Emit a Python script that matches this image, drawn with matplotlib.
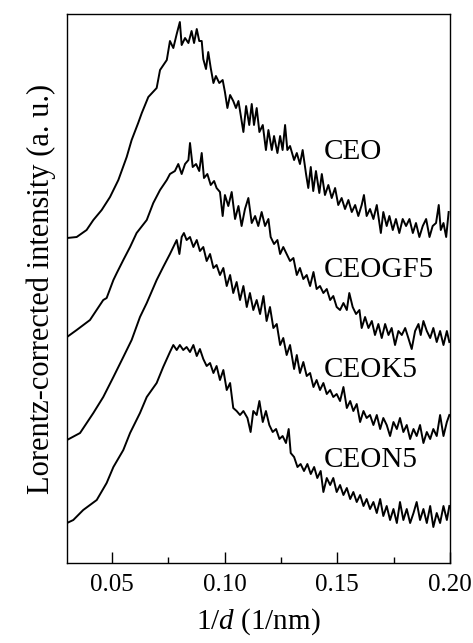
import matplotlib
matplotlib.use("Agg")
import matplotlib.pyplot as plt
from matplotlib.ticker import MultipleLocator

plt.rcParams['font.family'] = ['Liberation Serif', 'DejaVu Serif']
plt.rcParams['mathtext.fontset'] = 'custom'
plt.rcParams['mathtext.it'] = 'Liberation Serif:italic'
plt.rcParams['mathtext.rm'] = 'Liberation Serif'

# values: 1/d in 1/nm, intensity in a.u. (curves already stacked)
ceo_x = [0.0300, 0.0343, 0.0387, 0.0417, 0.0454, 0.0491, 0.0528, 0.0565, 0.0587, 0.0616,
         0.0632, 0.0661, 0.0698, 0.0713, 0.0743,
         0.0757, 0.0772, 0.0787, 0.0801, 0.0809, 0.0824, 0.0839, 0.0853, 0.0864, 0.0876,
         0.0887, 0.0898, 0.0905, 0.0917, 0.0927, 0.0938, 0.0950, 0.0961, 0.0976, 0.0991,
         0.1001, 0.1012, 0.1024, 0.1038, 0.1050, 0.1061, 0.1071, 0.1083, 0.1095, 0.1109,
         0.1120, 0.1130, 0.1142, 0.1154, 0.1169, 0.1183, 0.1194, 0.1209, 0.1219, 0.1234,
         0.1246, 0.1257, 0.1268, 0.1278, 0.1290, 0.1308, 0.1320, 0.1334, 0.1346, 0.1361,
         0.1371, 0.1382, 0.1393, 0.1405, 0.1420, 0.1431, 0.1445, 0.1460, 0.1475, 0.1490,
         0.1504, 0.1519, 0.1534, 0.1549, 0.1564, 0.1579, 0.1593, 0.1608, 0.1618, 0.1630,
         0.1645, 0.1660, 0.1675, 0.1693, 0.1704, 0.1719, 0.1731, 0.1746, 0.1760, 0.1775,
         0.1790, 0.1805, 0.1820, 0.1835, 0.1849, 0.1864, 0.1879, 0.1894, 0.1909, 0.1923,
         0.1938, 0.1950, 0.1959, 0.1971, 0.1983, 0.1994]
ceo_y = [325, 326, 333, 343, 353, 366, 383, 406, 423, 440,
         450, 466, 475, 493, 503,
         522, 515, 529, 541, 518, 525, 520, 532, 520, 534,
         522, 522, 504, 494, 511, 495, 480, 487, 480, 483,
         471, 455, 468, 462, 455, 462, 448, 431, 457, 438,
         459, 438, 455, 431, 438, 413, 433, 413, 427, 410,
         427, 413, 438, 413, 417, 403, 410, 399, 413, 389,
         375, 396, 372, 392, 370, 389, 368, 378, 365, 375,
         358, 365, 354, 363, 351, 358, 347, 358, 368, 347,
         354, 344, 358, 330, 351, 337, 347, 333, 344, 330,
         344, 337, 344, 330, 340, 326, 337, 344, 326, 337,
         340, 358, 333, 340, 326, 351]

gf5_x = [0.0300, 0.0343, 0.0402, 0.0461, 0.0476, 0.0506, 0.0521, 0.0550, 0.0580, 0.0609,
         0.0654, 0.0683, 0.0713, 0.0743,
         0.0757, 0.0779, 0.0794, 0.0809, 0.0824, 0.0839, 0.0846, 0.0858, 0.0873, 0.0887,
         0.0898, 0.0908, 0.0923, 0.0938, 0.0953, 0.0964, 0.0979, 0.0991, 0.1001, 0.1016,
         0.1031, 0.1046, 0.1061, 0.1075, 0.1090, 0.1105, 0.1120, 0.1135, 0.1149, 0.1164,
         0.1179, 0.1194, 0.1204, 0.1219, 0.1234, 0.1246, 0.1260, 0.1275, 0.1290, 0.1305,
         0.1320, 0.1334, 0.1349, 0.1364, 0.1379, 0.1394, 0.1408, 0.1423, 0.1438, 0.1453,
         0.1468, 0.1482, 0.1497, 0.1512, 0.1527, 0.1542, 0.1553, 0.1568, 0.1583, 0.1598,
         0.1608, 0.1623, 0.1638, 0.1653, 0.1667, 0.1682, 0.1697, 0.1712, 0.1727, 0.1741,
         0.1756, 0.1771, 0.1786, 0.1801, 0.1815, 0.1830, 0.1845, 0.1860, 0.1870, 0.1882,
         0.1897, 0.1912, 0.1926, 0.1941, 0.1956, 0.1971, 0.1986, 0.1997]
gf5_y = [226, 233, 243, 263, 265, 283, 290, 303, 316, 330,
         343, 360, 373, 383,
         389, 392, 399, 389, 399, 403, 420, 396, 399, 392,
         410, 385, 389, 378, 382, 375, 371, 347, 368, 357,
         371, 344, 357, 337, 354, 365, 340, 347, 337, 351,
         337, 344, 326, 319, 323, 309, 316, 309, 302, 305,
         288, 295, 284, 288, 277, 291, 274, 277, 270, 274,
         263, 267, 256, 253, 260, 253, 270, 256, 249, 253,
         235, 246, 235, 242, 228, 239, 225, 239, 228, 235,
         218, 232, 228, 235, 225, 214, 232, 239, 228, 242,
         232, 225, 235, 221, 232, 218, 232, 221]

k5_x = [0.0300, 0.0358, 0.0417, 0.0461, 0.0506, 0.0550, 0.0587, 0.0624, 0.0654, 0.0698,
        0.0727,
        0.0757, 0.0772, 0.0787, 0.0799, 0.0809, 0.0819, 0.0831, 0.0846, 0.0861, 0.0876,
        0.0890, 0.0905, 0.0920, 0.0935, 0.0950, 0.0964, 0.0979, 0.0994, 0.1009, 0.1024,
        0.1038, 0.1053, 0.1068, 0.1083, 0.1098, 0.1112, 0.1127, 0.1142, 0.1157, 0.1172,
        0.1186, 0.1201, 0.1216, 0.1231, 0.1246, 0.1260, 0.1275, 0.1290, 0.1308, 0.1320,
        0.1334, 0.1349, 0.1364, 0.1379, 0.1394, 0.1408, 0.1423, 0.1438, 0.1453, 0.1468,
        0.1482, 0.1497, 0.1512, 0.1527, 0.1542, 0.1557, 0.1571, 0.1586, 0.1601, 0.1616,
        0.1630, 0.1645, 0.1660, 0.1675, 0.1690, 0.1704, 0.1719, 0.1734, 0.1749, 0.1764,
        0.1778, 0.1793, 0.1808, 0.1823, 0.1838, 0.1852, 0.1867, 0.1882, 0.1897, 0.1912,
        0.1926, 0.1941, 0.1956, 0.1971, 0.1986, 0.1997]
k5_y = [123, 130, 150, 166, 186, 206, 223, 246, 260, 283,
        296,
        309, 316, 323, 309, 326, 330, 323, 326, 316, 323,
        312, 316, 302, 309, 295, 298, 288, 295, 277, 288,
        270, 281, 263, 277, 256, 270, 253, 263, 249, 267,
        242, 256, 235, 239, 218, 225, 208, 218, 194, 208,
        190, 201, 187, 190, 176, 183, 173, 180, 169, 173,
        166, 169, 162, 176, 155, 162, 152, 159, 141, 152,
        145, 148, 138, 148, 134, 145, 138, 127, 141, 134,
        145, 131, 138, 124, 134, 127, 138, 120, 131, 124,
        134, 127, 148, 127, 141, 148]

n5_x = [0.0300, 0.0328, 0.0372, 0.0432, 0.0476, 0.0506, 0.0550, 0.0580, 0.0624, 0.0654,
        0.0698, 0.0727,
        0.0757, 0.0772, 0.0787, 0.0801, 0.0816, 0.0831, 0.0846, 0.0861, 0.0876, 0.0890,
        0.0905, 0.0920, 0.0935, 0.0950, 0.0964, 0.0979, 0.0994, 0.1009, 0.1024, 0.1038,
        0.1053, 0.1068, 0.1083, 0.1101, 0.1115, 0.1127, 0.1142, 0.1154, 0.1169, 0.1183,
        0.1198, 0.1213, 0.1228, 0.1243, 0.1257, 0.1272, 0.1284, 0.1293, 0.1308, 0.1323,
        0.1337, 0.1352, 0.1367, 0.1382, 0.1397, 0.1411, 0.1426, 0.1438, 0.1453, 0.1468,
        0.1482, 0.1497, 0.1512, 0.1527, 0.1542, 0.1557, 0.1571, 0.1586, 0.1601, 0.1616,
        0.1630, 0.1645, 0.1660, 0.1675, 0.1690, 0.1704, 0.1719, 0.1734, 0.1749, 0.1764,
        0.1778, 0.1793, 0.1808, 0.1823, 0.1838, 0.1852, 0.1867, 0.1882, 0.1897, 0.1912,
        0.1926, 0.1941, 0.1956, 0.1971, 0.1986, 0.1997]
n5_y = [40, 43, 53, 63, 80, 96, 113, 130, 150, 166,
        180, 196,
        211, 218, 213, 218, 213, 216, 211, 218, 207, 214,
        204, 197, 200, 190, 197, 183, 193, 173, 180, 155,
        152, 148, 152, 145, 131, 152, 148, 162, 141, 152,
        138, 131, 134, 124, 127, 120, 134, 110, 106, 96,
        99, 92, 99, 89, 96, 85, 92, 71, 85, 78,
        85, 71, 78, 68, 75, 64, 71, 61, 68, 57,
        64, 54, 61, 50, 64, 47, 57, 43, 54, 40,
        61, 43, 54, 40, 50, 61, 43, 54, 40, 57,
        36, 50, 40, 57, 43, 57]

names = ['CEO', 'CEOGF5', 'CEOK5', 'CEON5']
label_y = [411, 293, 193, 103]

fig = plt.figure(figsize=(4.73, 6.43), dpi=100)
ax = fig.add_axes([0.1416, 0.1244, 0.8098, 0.8538])

for xs, ys in [(ceo_x, ceo_y), (gf5_x, gf5_y), (k5_x, k5_y), (n5_x, n5_y)]:
    ax.plot(xs, ys, color='black', lw=1.4)

for name, ly in zip(names, label_y):
    ax.text(0.1441, ly, name, fontsize=21, ha='left', va='center')

ax.set_xlim(0.03, 0.20)
ax.set_ylim(0, 549)
ax.xaxis.set_major_locator(MultipleLocator(0.05))
ax.xaxis.set_minor_locator(MultipleLocator(0.025))
ax.xaxis.set_major_formatter(plt.FuncFormatter(lambda v, p: f'{v:.2f}'))
ax.tick_params(axis='x', which='major', direction='in', length=8, width=1,
               labelsize=18, pad=8)
ax.tick_params(axis='x', which='minor', direction='in', length=4, width=1)
ax.set_yticks([])
for s in ax.spines.values():
    s.set_linewidth(1.0)

ax.set_xlabel(r'1/$d$ (1/nm)', fontsize=21, labelpad=7)
ax.set_ylabel('Lorentz-corrected intensity (a. u.)', fontsize=22, labelpad=8)

fig.savefig('out.png', dpi=100)
